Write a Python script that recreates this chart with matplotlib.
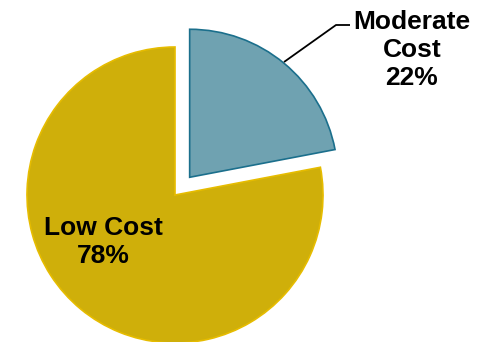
import matplotlib.pyplot as plt

# fatias do gráfico
categorias = ['Moderate\nCost', 'Low Cost']
percentuais = [22, 78]
cores = ['#6FA2B1', '#CFAF0A']
bordas = ['#1B6F8C', '#E6BC00']

plt.rcParams['font.family'] = ['Liberation Sans', 'DejaVu Sans']

fig = plt.figure(figsize=(4.85, 3.42), dpi=100)
ax = fig.add_axes([0, 0, 1, 1])

# pizza começando às 12h, sentido horário, fatia "Moderate" destacada
# (o explode do pie é em unidades de dado, não proporcional ao raio)
fatias, _ = ax.pie(percentuais, explode=[23, 0], startangle=90, counterclock=False,
                   colors=cores, center=(175, 147), radius=148,
                   wedgeprops=dict(linewidth=1.2))
for fatia, borda in zip(fatias, bordas):
    fatia.set_edgecolor(borda)

# o pie mexe nos limites, então ajusta depois
ax.set_xlim(0, 485)
ax.set_ylim(0, 342)
ax.set_aspect('equal')
ax.axis('off')

# rótulo interno da fatia grande
ax.text(103, 100, f'{categorias[1]}\n{percentuais[1]}%', ha='center', va='center',
        fontsize=19, fontweight='bold', linespacing=1.2)

# rótulo externo com linha de chamada
ax.text(412, 292, f'{categorias[0]}\n{percentuais[0]}%', ha='center', va='center',
        fontsize=19, fontweight='bold', linespacing=1.2)
ax.plot([284, 336, 350], [280, 317, 317], color='black', lw=1.3, solid_capstyle='butt')

fig.savefig('out.png', dpi=100)
